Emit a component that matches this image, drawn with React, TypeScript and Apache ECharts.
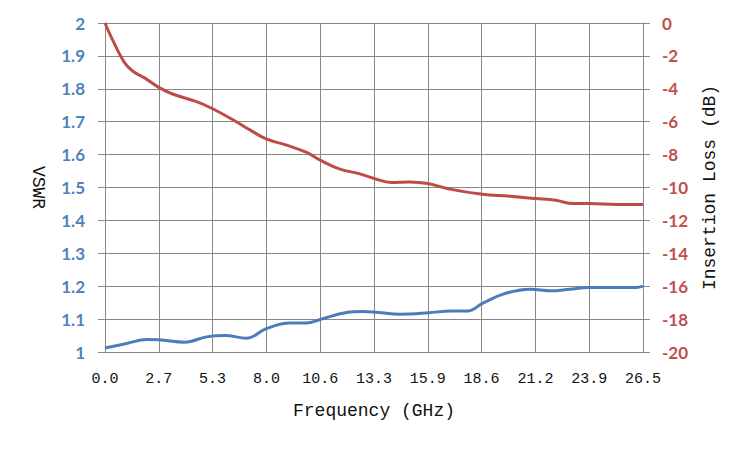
import React, { useEffect, useRef } from "react";
import * as echarts from "echarts";

const xTickLabels = ["0.0", "2.7", "5.3", "8.0", "10.6", "13.3", "15.9", "18.6", "21.2", "23.9", "26.5"];

const vswrFreq = [0, 1.07, 2.05, 2.67, 3.94, 5.0, 5.91, 6.98, 7.94, 9.11, 9.93, 10.6, 11.9, 12.72, 13.45, 14.52, 15.92, 17.07, 17.89, 18.57, 19.61, 20.92, 21.99, 22.89, 23.84, 25.19, 26.18, 26.5];
const vswrValues = [1.012, 1.026, 1.038, 1.037, 1.03, 1.046, 1.05, 1.042, 1.071, 1.088, 1.088, 1.099, 1.12, 1.123, 1.12, 1.115, 1.119, 1.125, 1.125, 1.147, 1.176, 1.191, 1.186, 1.191, 1.196, 1.196, 1.196, 1.2];

const lossFreq = [0, 0.41, 0.98, 1.39, 1.97, 2.67, 3.36, 4.51, 5.33, 6.32, 7.14, 7.94, 8.94, 9.93, 10.6, 11.57, 12.55, 13.25, 14.1, 15.0, 15.9, 16.98, 18.58, 19.93, 21.2, 22.2, 23.06, 23.85, 25.2, 26.5];
const lossValues = [0, -1.12, -2.44, -2.95, -3.35, -3.93, -4.33, -4.78, -5.23, -5.9, -6.5, -7.05, -7.42, -7.87, -8.34, -8.88, -9.17, -9.45, -9.7, -9.66, -9.76, -10.1, -10.41, -10.53, -10.67, -10.78, -10.98, -10.98, -11.04, -11.04];

const X_MAX = 26.5;
const X_STEP = 2.65;

export default function App() {
  const ref = useRef<HTMLDivElement>(null);

  useEffect(() => {
    document.body.style.margin = "0";
    if (!ref.current) return;
    const chart = echarts.init(ref.current, undefined, { renderer: "svg" });
    const gridColor = "#878787";
    const monoFont = "'Liberation Mono', 'DejaVu Sans Mono', monospace";
    const tickFont = "Lato, 'Noto Sans', sans-serif";
    chart.setOption({
      animation: false,
      backgroundColor: "#ffffff",
      grid: { left: 105, right: 107, top: 23, bottom: 98, containLabel: false },
      xAxis: {
        type: "value",
        min: 0,
        max: X_MAX,
        interval: X_STEP,
        name: "Frequency (GHz)",
        nameLocation: "middle",
        nameGap: 50,
        nameTextStyle: { fontFamily: monoFont, fontSize: 18, color: "#111" },
        axisLine: { show: true, lineStyle: { color: gridColor, width: 1 } },
        axisTick: { show: true, length: 6, lineStyle: { color: gridColor } },
        splitLine: { show: true, lineStyle: { color: gridColor, width: 1 } },
        axisLabel: {
          margin: 20,
          fontFamily: monoFont,
          fontSize: 15,
          color: "#111",
          formatter: (v: number) => xTickLabels[Math.round(v / X_STEP)] ?? "",
        },
      },
      yAxis: [
        {
          type: "value",
          min: 1,
          max: 2,
          interval: 0.1,
          position: "left",
          name: "VSWR",
          nameLocation: "middle",
          nameRotate: -90,
          nameGap: 58,
          nameTextStyle: { fontFamily: monoFont, fontSize: 18, color: "#111" },
          axisLine: { show: true, lineStyle: { color: gridColor, width: 1 } },
          axisTick: { show: true, length: 7, lineStyle: { color: gridColor } },
          splitLine: { show: true, lineStyle: { color: gridColor, width: 1 } },
          axisLabel: {
            margin: 20,
            fontFamily: tickFont,
            fontWeight: "bold",
            fontSize: 17,
            color: "#4F81BD",
          },
        },
        {
          type: "value",
          min: -20,
          max: 0,
          interval: 2,
          position: "right",
          name: "Insertion Loss (dB)",
          nameLocation: "middle",
          nameRotate: 90,
          nameGap: 58,
          nameTextStyle: { fontFamily: monoFont, fontSize: 18, color: "#111" },
          axisLine: { show: true, lineStyle: { color: gridColor, width: 1 } },
          axisTick: { show: true, length: 7, lineStyle: { color: gridColor } },
          splitLine: { show: false },
          axisLabel: {
            margin: 19,
            fontFamily: tickFont,
            fontWeight: "bold",
            fontSize: 17,
            color: "#C0504D",
          },
        },
      ],
      series: [
        {
          name: "VSWR",
          type: "line",
          yAxisIndex: 0,
          smooth: 0.4,
          showSymbol: false,
          lineStyle: { color: "#4A7EBB", width: 3 },
          itemStyle: { color: "#4A7EBB" },
          data: vswrFreq.map((f, i) => [f, vswrValues[i]]),
        },
        {
          name: "Insertion Loss",
          type: "line",
          yAxisIndex: 1,
          smooth: 0.4,
          showSymbol: false,
          lineStyle: { color: "#BE4B48", width: 3 },
          itemStyle: { color: "#BE4B48" },
          data: lossFreq.map((f, i) => [f, lossValues[i]]),
        },
      ],
    });
    return () => chart.dispose();
  }, []);

  return <div ref={ref} style={{ width: 750, height: 450 }} />;
}
